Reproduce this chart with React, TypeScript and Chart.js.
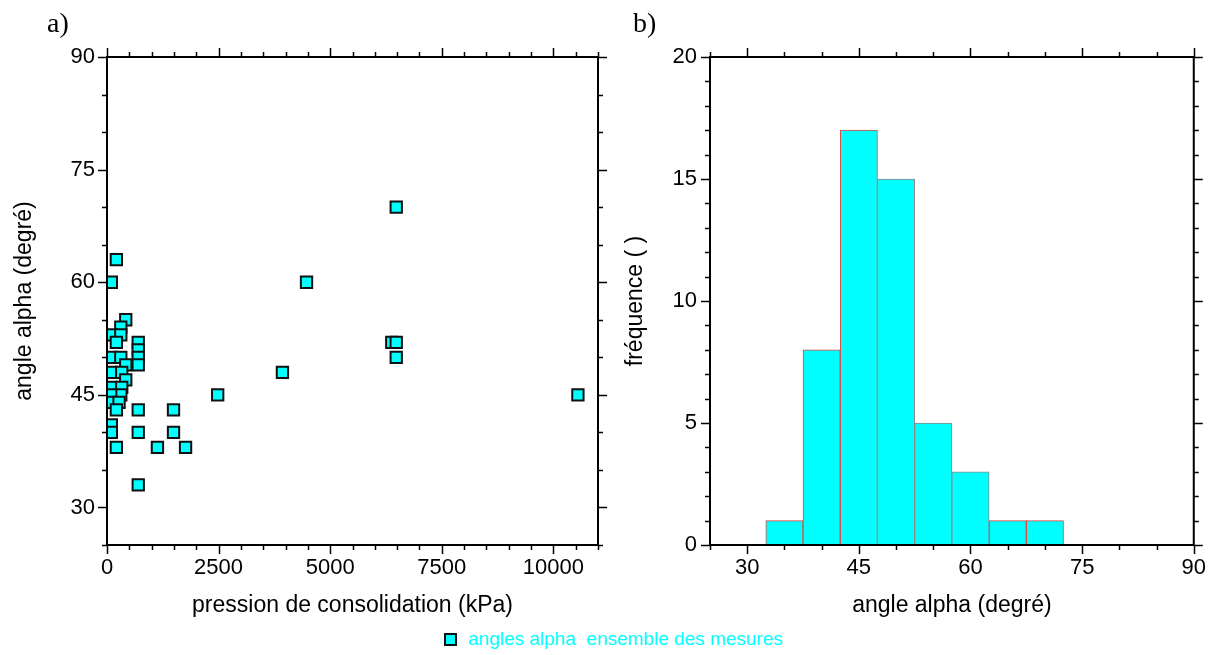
import React, { useEffect, useRef } from 'react';
import { Chart, registerables } from 'chart.js';

Chart.register(...registerables);

// ---- Data: scatter (a) ----
const PRESSION_KPA = [210, 97, 420, 309, 90, 309, 210, 700, 700, 90, 309, 700, 700, 420, 97, 330, 420, 97, 330, 309, 83, 60, 270, 210, 700, 97, 97, 700, 210, 1130, 1760, 1490, 1490, 700, 2480, 3930, 4470, 6380, 6480, 6480, 6480, 10550];
const ANGLE_ALPHA = [63, 60, 55, 54, 53, 53, 52, 52, 51, 50, 50, 50, 49, 49, 48, 48, 47, 46, 46, 45, 45, 44, 44, 43, 43, 41, 40, 40, 38, 38, 38, 43, 40, 33, 45, 48, 60, 52, 52, 50, 70, 45];

// ---- Data: histogram (b) ----
const HIST_BIN_CENTERS = [35, 40, 45, 50, 55, 60, 65, 70];
const HIST_COUNTS = [1, 8, 17, 15, 5, 3, 1, 1];
const HIST_EDGE_COLORS = ['#e8413c', '#e8413c', '#e8413c', '#8a8a8a', '#8a8a8a', '#8a8a8a', '#e8413c', '#e8413c'];

// ---- Tick labels ----
const SCATTER_X_LABELS = [0, 2500, 5000, 7500, 10000];
const SCATTER_Y_LABELS = [30, 45, 60, 75, 90];
const HIST_X_LABELS = [30, 45, 60, 75, 90];
const HIST_Y_LABELS = [0, 5, 10, 15, 20];

const LEGEND_LABEL = 'angles alpha  ensemble des mesures';
const FONT = '"Liberation Sans", Arial, sans-serif';
const CYAN = '#00ffff';

function range(start: number, end: number, step: number): number[] {
  const out: number[] = [];
  for (let v = start; v <= end + 1e-9; v += step) out.push(v);
  return out;
}

function makeFramePlugin(xMajor: number[], xMinor: number[], yMajor: number[], yMinor: number[]) {
  return {
    id: 'frameTicks',
    afterDraw(chart: any) {
      const { ctx, chartArea, scales } = chart;
      const { left, right, top, bottom } = chartArea;
      ctx.save();
      ctx.strokeStyle = '#000';
      ctx.lineWidth = 1.5;
      ctx.beginPath();
      const xs: [number[], number][] = [[xMinor, 5], [xMajor, 9]];
      for (const [vals, len] of xs) {
        for (const v of vals) {
          const px = Math.round(scales.x.getPixelForValue(v)) + 0.5;
          ctx.moveTo(px, bottom);
          ctx.lineTo(px, bottom + len);
          ctx.moveTo(px, top);
          ctx.lineTo(px, top - len);
        }
      }
      const ys: [number[], number][] = [[yMinor, 5], [yMajor, 9]];
      for (const [vals, len] of ys) {
        for (const v of vals) {
          const py = Math.round(scales.y.getPixelForValue(v)) + 0.5;
          ctx.moveTo(left, py);
          ctx.lineTo(left - len, py);
          ctx.moveTo(right, py);
          ctx.lineTo(right + len, py);
        }
      }
      ctx.stroke();
      ctx.lineWidth = 2;
      ctx.strokeRect(left, top, right - left, bottom - top);
      ctx.restore();
    },
  };
}

function axisCommon(labels: number[], isX: boolean, fitSize: number, title: string, titlePad: any, tickPad: number) {
  return {
    type: 'linear',
    offset: false,
    afterBuildTicks: (s: any) => {
      s.ticks = labels.map((v) => ({ value: v }));
    },
    afterFit: (s: any) => {
      if (isX) s.height = fitSize;
      else s.width = fitSize;
    },
    grid: { display: false, drawTicks: false },
    border: { display: false },
    ticks: {
      autoSkip: false,
      maxRotation: 0,
      padding: tickPad,
      color: '#000',
      font: { family: FONT, size: 22 },
      callback: (v: any) => String(v),
    },
    title: {
      display: true,
      text: title,
      color: '#000',
      font: { family: FONT, size: 23 },
      padding: titlePad,
    },
  };
}

function ScatterChart() {
  const ref = useRef<HTMLCanvasElement | null>(null);
  useEffect(() => {
    if (!ref.current) return;
    const chart = new Chart(ref.current, {
      type: 'scatter',
      data: {
        datasets: [
          {
            label: LEGEND_LABEL,
            data: PRESSION_KPA.map((x, i) => ({ x, y: ANGLE_ALPHA[i] })),
            pointStyle: 'rect',
            pointRadius: 8,
            backgroundColor: CYAN,
            borderColor: '#111',
            borderWidth: 2,
          },
        ],
      },
      options: {
        animation: false,
        responsive: false,
        maintainAspectRatio: false,
        layout: { padding: { top: 57, right: 12, left: 0, bottom: 0 } },
        plugins: { legend: { display: false }, tooltip: { enabled: false } },
        scales: {
          x: {
            ...axisCommon(SCATTER_X_LABELS, true, 80, 'pression de consolidation (kPa)', { top: 0, bottom: 6 }, 10),
            min: 0,
            max: 11000,
          },
          y: {
            ...axisCommon(SCATTER_Y_LABELS, false, 107, 'angle alpha (degré)', { top: 11, bottom: 0 }, 12),
            min: 25,
            max: 90,
          },
        },
      } as any,
      plugins: [makeFramePlugin(SCATTER_X_LABELS, range(0, 11000, 500), SCATTER_Y_LABELS, range(25, 90, 5))],
    } as any);
    return () => chart.destroy();
  }, []);
  return (
    <canvas
      ref={ref}
      width={610}
      height={625}
      style={{ position: 'absolute', left: 0, top: 0, width: 610, height: 625 }}
    />
  );
}

function HistogramChart() {
  const ref = useRef<HTMLCanvasElement | null>(null);
  useEffect(() => {
    if (!ref.current) return;
    const chart = new Chart(ref.current, {
      type: 'bar',
      data: {
        datasets: [
          {
            label: 'fréquence',
            data: HIST_BIN_CENTERS.map((x, i) => ({ x, y: HIST_COUNTS[i] })),
            backgroundColor: CYAN,
            borderColor: HIST_EDGE_COLORS,
            borderWidth: 1,
            barPercentage: 1,
            categoryPercentage: 1,
          },
        ],
      },
      options: {
        animation: false,
        responsive: false,
        maintainAspectRatio: false,
        layout: { padding: { top: 57, right: 20, left: 0, bottom: 0 } },
        plugins: { legend: { display: false }, tooltip: { enabled: false } },
        scales: {
          x: {
            ...axisCommon(HIST_X_LABELS, true, 80, 'angle alpha (degré)', { top: 0, bottom: 6 }, 10),
            min: 25,
            max: 90,
          },
          y: {
            ...axisCommon(HIST_Y_LABELS, false, 100, 'fréquence ( )', { top: 12, bottom: 0 }, 13),
            min: 0,
            max: 20,
          },
        },
      } as any,
      plugins: [makeFramePlugin(HIST_X_LABELS, range(25, 90, 5), HIST_Y_LABELS, range(0, 20, 1))],
    } as any);
    return () => chart.destroy();
  }, []);
  return (
    <canvas
      ref={ref}
      width={606}
      height={625}
      style={{ position: 'absolute', left: 610, top: 0, width: 606, height: 625 }}
    />
  );
}

export default function App() {
  const panelLabel: React.CSSProperties = {
    position: 'absolute',
    top: 9,
    fontFamily: '"Liberation Serif", "Times New Roman", serif',
    fontSize: 28,
    lineHeight: '28px',
    color: '#000',
  };
  return (
    <div style={{ position: 'absolute', left: 0, top: 0, width: 1216, height: 655, background: '#fff', overflow: 'hidden' }}>
      <ScatterChart />
      <HistogramChart />
      <div style={{ ...panelLabel, left: 47 }}>a)</div>
      <div style={{ ...panelLabel, left: 633 }}>b)</div>
      <div
        style={{
          position: 'absolute',
          left: 444,
          top: 628,
          display: 'flex',
          alignItems: 'center',
          fontFamily: FONT,
          fontSize: 19,
          lineHeight: '22px',
          color: CYAN,
          whiteSpace: 'pre',
        }}
      >
        <span
          style={{
            display: 'inline-block',
            width: 9,
            height: 9,
            background: CYAN,
            border: '2px solid #111',
            marginRight: 11,
          }}
        />
        <span>{LEGEND_LABEL}</span>
      </div>
    </div>
  );
}
